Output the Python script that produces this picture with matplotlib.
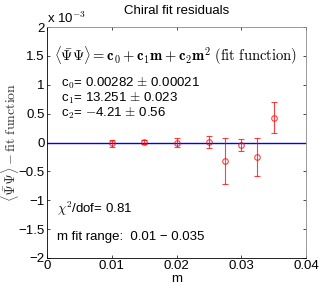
import numpy as np
import matplotlib
matplotlib.use("Agg")
import matplotlib.pyplot as plt

plt.rcParams['font.family'] = ['Liberation Sans', 'DejaVu Sans']
plt.rcParams['mathtext.fontset'] = 'cm'

# residuals in units of 1e-3
m_vals = [0.01, 0.015, 0.02, 0.025, 0.0275, 0.03, 0.0325, 0.035]
resid = [-0.01, 0.01, 0.0, 0.01, -0.32, -0.04, -0.25, 0.43]
resid_err = [0.06, 0.03, 0.07, 0.10, 0.40, 0.10, 0.33, 0.27]
xticks = [0, 0.01, 0.02, 0.03, 0.04]
yticks = [-2, -1.5, -1, -0.5, 0, 0.5, 1, 1.5, 2]
ytick_labels = ['\u22122', '\u22121.5', '\u22121', '\u22120.5', '0', '0.5', '1', '1.5', '2']

fig = plt.figure(figsize=(3.21, 2.89), dpi=100)
ax = fig.add_axes([47/321, 31/289, 259/321, 231/289])

ax.axhline(0, color='#0000ff', lw=1.0, zorder=2)
ax.errorbar(m_vals, resid, yerr=resid_err, fmt='o', color='#ff0000',
            mfc='none', ms=4, mew=0.8, elinewidth=0.8, capsize=2.5,
            capthick=0.8, zorder=3, alpha=0.75)

ax.set_xlim(0, 0.04)
ax.set_ylim(-2, 2)
ax.set_xticks(xticks)
ax.set_xticklabels(['0', '0.01', '0.02', '0.03', '0.04'])
ax.set_yticks(yticks)
ax.set_yticklabels(ytick_labels)
ax.tick_params(direction='in', top=True, right=True, labelsize=9.5,
               length=2.5, width=0.5, pad=1.5)
for s in ax.spines.values():
    s.set_linewidth(0.6)
ax.spines['top'].set_color('#888888')
ax.spines['right'].set_color('#888888')

fs = 9.5
ax.set_title('Chiral fit residuals', fontsize=fs, pad=9)
ax.set_xlabel('m', fontsize=fs, labelpad=0.5)
ax.set_ylabel(r'$\langle\bar{\Psi}\Psi\rangle - \mathrm{fit\ function}$',
              fontsize=10, color='#333333')
ax.yaxis.set_label_coords(-0.1, 0.5)
ax.text(0, 1.003, r'x 10$^{-3}$', transform=ax.transAxes, fontsize=fs,
        va='bottom', ha='left')

ax.text(0.0011, 1.5, r'$\langle\bar{\mathbf{\Psi}}\mathbf{\Psi}\rangle = '
        r'\mathbf{c_0 + c_1 m + c_2 m^2}\ \mathrm{(fit\ function)}$',
        fontsize=10.5, va='center')
ax.text(0.0021, 1.02, r'c$_0$= 0.00282 $\pm$ 0.00021', fontsize=fs, va='center')
ax.text(0.0021, 0.76, r'c$_1$= 13.251 $\pm$ 0.023', fontsize=fs, va='center')
ax.text(0.0021, 0.50, r'c$_2$= $-$4.21 $\pm$ 0.56', fontsize=fs, va='center')
ax.text(0.0015, -1.15, r'$\chi^2$/dof= 0.81', fontsize=fs, va='center')
ax.text(0.0015, -1.63, 'm fit range:  0.01 \u2212 0.035', fontsize=fs, va='center')

fig.savefig('out.png', dpi=100)
